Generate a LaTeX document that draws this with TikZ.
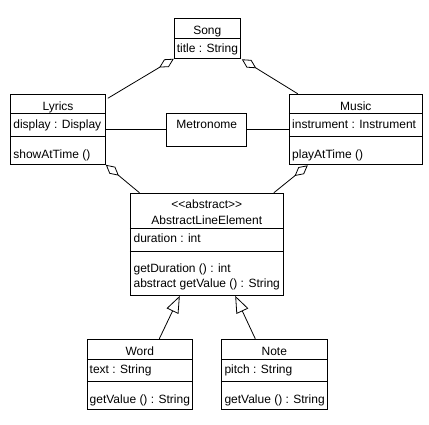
\documentclass[tikz,border=0pt]{standalone}
\usepackage{fontspec}
\setmainfont{Liberation Sans}
\usetikzlibrary{arrows.meta}
\begin{document}
\begin{tikzpicture}[x=1pt,y=-1pt,
  cls/.style={draw, line width=1pt, inner sep=0pt, fill=white},
  txt/.style={inner sep=0pt, font=\fontsize{12}{14}\selectfont},
  conn/.style={line width=0.8pt},
  aggr/.style={conn, -{Diamond[open, fill=white, length=17pt, width=9pt]}},
  inh/.style={conn, -{Triangle[open, fill=white, length=17pt, width=13pt]}},
  sep/.style={line width=1pt}]
\useasboundingbox[fill=white] (0,0) rectangle (429,425);

% class boxes
\node[cls, minimum width=66pt, minimum height=40pt] (song) at (207.3,38.3) {};
\node[cls, minimum width=94.6pt, minimum height=70pt] (lyrics) at (58,129.3) {};
\node[cls, minimum width=79.7pt, minimum height=33.3pt] (metro) at (206.8,129.7) {};
\node[cls, minimum width=133pt, minimum height=70pt] (music) at (355.8,129.3) {};
\node[cls, minimum width=153pt, minimum height=102pt] (ale) at (206.8,244.3) {};
\node[cls, minimum width=105pt, minimum height=70pt] (word) at (139.8,374.3) {};
\node[cls, minimum width=106pt, minimum height=70pt] (note) at (274.3,374.3) {};

% compartment separators
\draw[sep] (song.west |- 0,38.3) -- (song.east |- 0,38.3);
\draw[sep] (lyrics.west |- 0,113.3) -- (lyrics.east |- 0,113.3);
\draw[sep] (lyrics.west |- 0,136.3) -- (lyrics.east |- 0,136.3);
\draw[sep] (music.west |- 0,113.3) -- (music.east |- 0,113.3);
\draw[sep] (music.west |- 0,136.3) -- (music.east |- 0,136.3);
\draw[sep] (ale.west |- 0,228.3) -- (ale.east |- 0,228.3);
\draw[sep] (ale.west |- 0,251.3) -- (ale.east |- 0,251.3);
\draw[sep] (word.west |- 0,359.3) -- (word.east |- 0,359.3);
\draw[sep] (word.west |- 0,381.3) -- (word.east |- 0,381.3);
\draw[sep] (note.west |- 0,359.3) -- (note.east |- 0,359.3);
\draw[sep] (note.west |- 0,381.3) -- (note.east |- 0,381.3);

% texts
\node[txt, anchor=base] (songname) at (207.3,34.3) {Song};
\node[txt, anchor=base west] (songattr) at (176.6,52.3) {title : String};

\node[txt, anchor=base] (lyrname) at (58,110.3) {Lyrics};
\node[txt, anchor=base west] (lyrattr) at (13.2,128.3) {display : Display};
\node[txt, anchor=base west] (lyrop) at (13.2,158.3) {showAtTime ()};

\node[txt, anchor=base] (metroname) at (206.8,128.3) {Metronome};

\node[txt, anchor=base] (musname) at (355.8,110.3) {Music};
\node[txt, anchor=base west] (musattr) at (292,128.3) {instrument : Instrument};
\node[txt, anchor=base west] (musop) at (292,158.3) {playAtTime ()};

\node[txt, anchor=base] (alestereo) at (206.8,208.3) {<{}<abstract>{}>};
\node[txt, anchor=base] (alename) at (206.8,224.3) {AbstractLineElement};
\node[txt, anchor=base west] (aleattr) at (133.4,242.3) {duration : int};
\node[txt, anchor=base west] (aleopa) at (133.4,272.3) {getDuration () : int};
\node[txt, anchor=base west] (aleopb) at (133.4,287.3) {abstract getValue () : String};

\node[txt, anchor=base] (wordname) at (139.8,355.3) {Word};
\node[txt, anchor=base west] (wordattr) at (89.5,373.3) {text : String};
\node[txt, anchor=base west] (wordop) at (89.5,403.3) {getValue () : String};

\node[txt, anchor=base] (notename) at (274.3,355.3) {Note};
\node[txt, anchor=base west] (noteattr) at (224.3,373.3) {pitch : String};
\node[txt, anchor=base west] (noteop) at (224.3,403.3) {getValue () : String};

% connectors
\draw[aggr] ([shift={(2,4.5)}]lyrics.north east) -- (song.south west);
\draw[aggr] ([shift={(9,0)}]music.north west) -- ([shift={(1,0.5)}]song.south east);
\draw[aggr] ([shift={(9.7,0)}]ale.north west) -- (lyrics.south east);
\draw[aggr] ([shift={(-10,0)}]ale.north east) -- ([shift={(19,0.5)}]music.south west);
\draw[conn] (metro.west) -- (metro.west -| lyrics.east);
\draw[conn] (metro.east) -- (metro.east -| music.west);
\draw[inh] ([shift={(19.5,0)}]word.north) -- ([shift={(50,0)}]ale.south west);
\draw[inh] ([shift={(-19,0)}]note.north) -- ([shift={(-48.6,0)}]ale.south east);
\end{tikzpicture}
\end{document}
